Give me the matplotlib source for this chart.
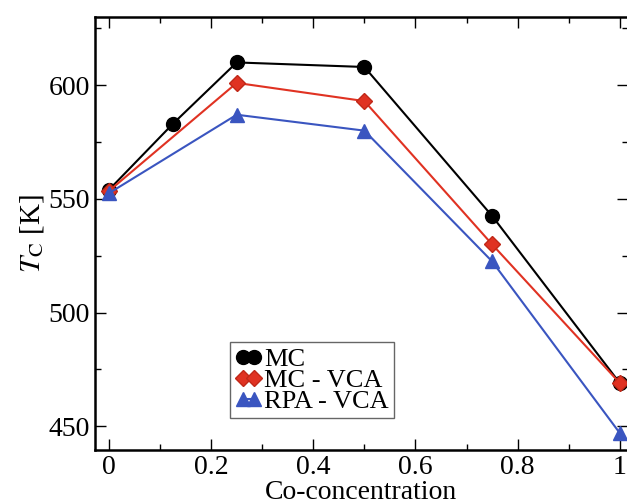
import matplotlib.pyplot as plt
from matplotlib.ticker import MultipleLocator

plt.rcParams['font.family'] = 'Liberation Serif'
plt.rcParams['mathtext.fontset'] = 'stix'

x_mc = [0, 0.125, 0.25, 0.5, 0.75, 1.0]
tc_mc = [554, 583, 610, 608, 542.5, 469]

x_vca = [0, 0.25, 0.5, 0.75, 1.0]
tc_mc_vca = [553.5, 601, 593, 530, 469]
tc_rpa_vca = [552.5, 587, 580, 522.5, 447]

fig = plt.figure(figsize=(6.27, 4.99), dpi=100)
ax = fig.add_axes([0.1515, 0.098, 0.85, 0.868])

ax.plot(x_mc, tc_mc, color='black', lw=1.5, marker='o', ms=10,
        label='MC', zorder=3)
ax.plot(x_vca, tc_mc_vca, color='#e03222', lw=1.5, marker='D', ms=8,
        mec='#c02818', label='MC - VCA', zorder=4)
ax.plot(x_vca, tc_rpa_vca, color='#3a55c0', lw=1.5, marker='^', ms=10,
        label='RPA - VCA', zorder=5)

ax.set_xlim(-0.0275, 1.016)
ax.set_ylim(439.5, 630)
ax.xaxis.set_minor_locator(MultipleLocator(0.1))
ax.yaxis.set_major_locator(MultipleLocator(50))
ax.yaxis.set_minor_locator(MultipleLocator(25))
ax.set_xticks([0, 0.2, 0.4, 0.6, 0.8, 1.0])
ax.set_xticklabels(['0', '0.2', '0.4', '0.6', '0.8', '1'])
ax.tick_params(which='both', direction='in', top=True, right=True,
               labelsize=20, width=1)
ax.tick_params(which='major', length=8)
ax.tick_params(which='minor', length=4)
for s in ax.spines.values():
    s.set_linewidth(1.8)

ax.set_xlabel('Co-concentration', fontsize=20, labelpad=0)
ax.set_ylabel(r'$T_{\rm C}$ [K]', fontsize=21, labelpad=2)

leg = ax.legend(loc='lower left', bbox_to_anchor=(0.253, 0.074), numpoints=2,
                fontsize=19, handlelength=1.0, handletextpad=0.1,
                labelspacing=-0.1, borderpad=0.2, fancybox=False,
                edgecolor='#666666', framealpha=1, borderaxespad=0)
leg.get_frame().set_linewidth(1.0)

fig.savefig('out.png', dpi=100)
